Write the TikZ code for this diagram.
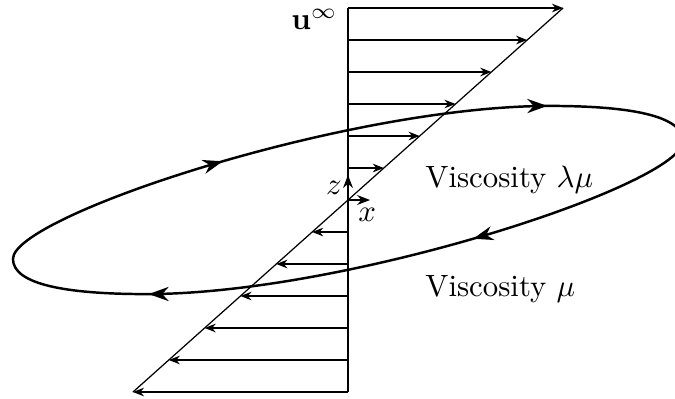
\documentclass[tikz,border=0pt]{standalone}
\usepackage{amsmath,amssymb}
\usepackage{tikz}
\usetikzlibrary{arrows.meta,decorations.markings}

\begin{document}
\begin{tikzpicture}[x=0.365cm,y=0.365cm,
      vel/.style={-{Stealth[length=3.6pt,width=2.8pt]}},
      ax/.style={semithick,-{Stealth[length=4.2pt,width=3.2pt]}},
      flow/.style={thick,postaction={decorate},decoration={markings,
        mark=at position 0.165 with {\arrow{Stealth[length=6.5pt,width=4.6pt]}},
        mark=at position 0.396 with {\arrow{Stealth[length=6.5pt,width=4.6pt]}},
        mark=at position 0.665 with {\arrow{Stealth[length=6.5pt,width=4.6pt]}},
        mark=at position 0.896 with {\arrow{Stealth[length=6.5pt,width=4.6pt]}}}},
      lbl/.style={anchor=base west,inner sep=0pt}]
      \useasboundingbox (-10.875,-6.1875) rectangle (10.219,6.25);
      % Shear profile
      \coordinate (top) at (0,6);
      \coordinate (bot) at (0,-6);
      \coordinate (tr) at (6.72,6);
      \coordinate (bl) at (-6.72,-6);
      \draw (top) -- (bot);
      \draw (bl) -- (tr);
      % Rows above
      \coordinate (s6) at (0,6); \coordinate (e6) at (6.72,6); \draw[vel] (s6) -- (e6);
      \coordinate (s5) at (0,5); \coordinate (e5) at (5.60,5); \draw[vel] (s5) -- (e5);
      \coordinate (s4) at (0,4); \coordinate (e4) at (4.48,4); \draw[vel] (s4) -- (e4);
      \coordinate (s3) at (0,3); \coordinate (e3) at (3.36,3); \draw[vel] (s3) -- (e3);
      \coordinate (s2) at (0,2); \coordinate (e2) at (2.24,2); \draw[vel] (s2) -- (e2);
      \coordinate (s1) at (0,1); \coordinate (e1) at (1.12,1); \draw[vel] (s1) -- (e1);
      % Rows below
      \coordinate (t1) at (0,-1); \coordinate (f1) at (-1.12,-1); \draw[vel] (t1) -- (f1);
      \coordinate (t2) at (0,-2); \coordinate (f2) at (-2.24,-2); \draw[vel] (t2) -- (f2);
      \coordinate (t3) at (0,-3); \coordinate (f3) at (-3.36,-3); \draw[vel] (t3) -- (f3);
      \coordinate (t4) at (0,-4); \coordinate (f4) at (-4.48,-4); \draw[vel] (t4) -- (f4);
      \coordinate (t5) at (0,-5); \coordinate (f5) at (-5.60,-5); \draw[vel] (t5) -- (f5);
      \coordinate (t6) at (0,-6); \coordinate (f6) at (-6.72,-6); \draw[vel] (t6) -- (f6);
      % Drop
      \coordinate (dl) at (-10.47,-1.84);
      \coordinate (dt) at (6.3,2.94);
      \coordinate (dr) at (10.47,1.84);
      \coordinate (db) at (-6.3,-2.94);
      \draw[flow] (dl) .. controls (-10.47,-0.5) and (0,2.94) .. (dt)
                       .. controls (8.8,2.94) and (10.47,2.64) .. (dr)
                       .. controls (10.47,0.5) and (0,-2.94) .. (db)
                       .. controls (-8.8,-2.94) and (-10.47,-2.64) .. (dl) -- cycle;
      % Axes
      \coordinate (o) at (0,0);
      \coordinate (zend) at (0,0.78);
      \coordinate (xend) at (0.69,0);
      \draw[ax] (o) -- (zend);
      \draw[ax] (o) -- (xend);
      \node (zlab) at (-0.44,0.38) {$z$};
      \node (xlab) at (0.6,-0.47) {$x$};
      % Labels
      \node[left] (uinf) at (0,5.65) {$\mathbf{u}^\infty$};
      \node[lbl] (visin) at (2.4,0.40) {Viscosity $\lambda\mu$};
      \node[lbl] (visout) at (2.4,-3.02) {Viscosity $\mu$};
    \end{tikzpicture}
\end{document}
